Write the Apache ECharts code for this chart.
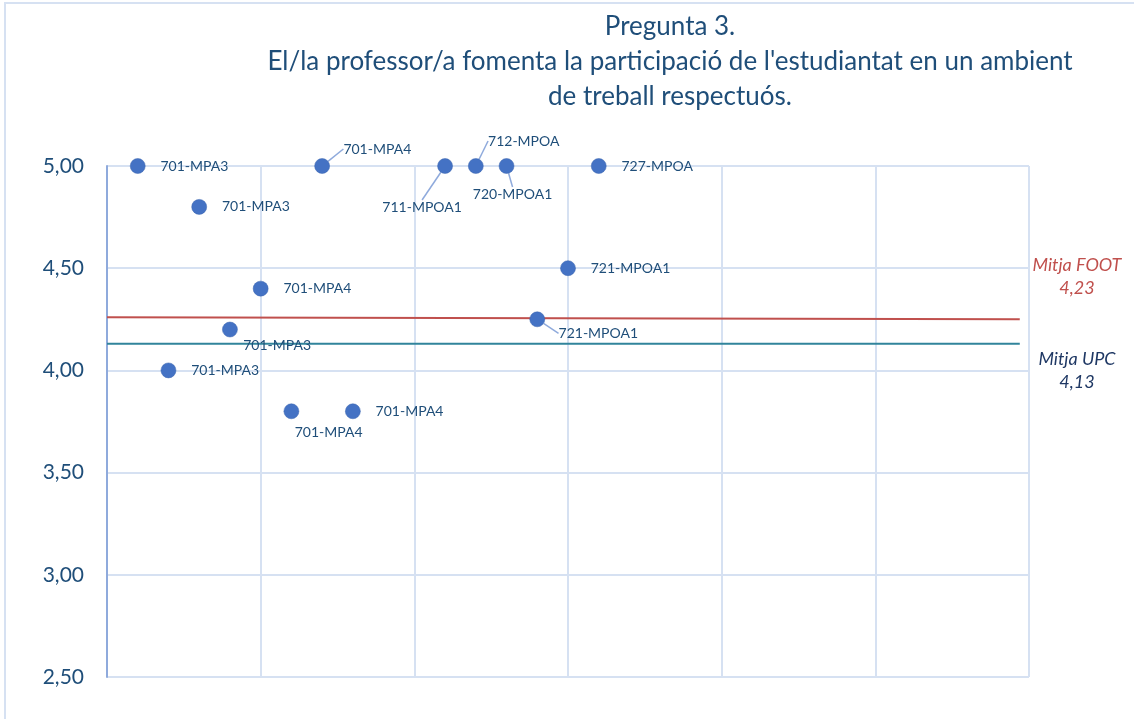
<!DOCTYPE html>
<html>
<head>
<meta charset="utf-8">
<script src="https://cdn.jsdelivr.net/npm/echarts@6/dist/echarts.min.js"></script>
<style>
  html, body { margin: 0; padding: 0; background: #fff; }
  #main { width: 1134px; height: 719px; }
</style>
</head>
<body>
<div id="main"></div>
<script>
// dades
var positions = [1, 2, 3, 4, 5, 6, 7, 8, 11, 12, 13, 14, 15, 16];
var scores = [5.00, 4.00, 4.80, 4.20, 4.40, 3.80, 5.00, 3.80, 5.00, 5.00, 5.00, 4.25, 4.50, 5.00];
var groups = ['701-MPA3', '701-MPA3', '701-MPA3', '701-MPA3', '701-MPA4', '701-MPA4', '701-MPA4',
	'701-MPA4', '711-MPOA1', '712-MPOA', '720-MPOA1', '721-MPOA1', '721-MPOA1', '727-MPOA'];
var footLineX = [0, 29.7];
var footLineY = [4.26, 4.25];
var upcLineX = [0, 29.7];
var upcLineY = [4.13, 4.13];
var yTicks = [2.5, 3.0, 3.5, 4.0, 4.5, 5.0];

var titleColor = '#1F4E79';
var gridColor = '#D6E1F2';

// etiquetes desplaçades (index -> dx, dy)
var moved = {
	3: [-9.5, 16],
	5: [-19.5, 21],
	6: [-1.5, -17],
	8: [-85.5, 41],
	9: [-10.5, -25],
	10: [-56.5, 28],
	11: [-1.5, 14]
};
var withLine = [6, 8, 9, 10, 11];

var myChart = echarts.init(document.getElementById('main'));

var points = positions.map(function(x, i) {
	var item = { value: [x, scores[i]], name: groups[i] };
	if (withLine.indexOf(i) >= 0) {
		item.labelLine = { show: true };
	}
	return item;
});

function note(text, x, y, color) {
	return {
		type: 'text',
		x: x,
		y: y,
		style: {
			text: text,
			textAlign: 'center',
			textVerticalAlign: 'middle',
			font: 'italic 18px Lato',
			fill: color
		}
	};
}

var option = {
	animation: false,
	textStyle: { fontFamily: 'Lato' },
	title: {
		text: 'Pregunta 3.\nEl/la professor/a fomenta la participació de l\'estudiantat en un ambient\nde treball respectuós.',
		left: 665,
		top: 4,
		textAlign: 'center',
		textStyle: {
			fontFamily: 'Lato',
			fontSize: 26,
			fontWeight: 'normal',
			lineHeight: 35,
			color: titleColor
		}
	},
	grid: {
		left: 107,
		right: 105,
		top: 166,
		bottom: 42
	},
	xAxis: {
		type: 'value',
		min: 0,
		max: 30,
		interval: 5,
		axisLine: { show: false },
		axisTick: { show: false },
		axisLabel: { show: false },
		splitLine: { lineStyle: { color: gridColor, width: 2 } }
	},
	yAxis: {
		type: 'value',
		min: 2.5,
		max: 5,
		interval: 0.5,
		axisLine: { show: true, lineStyle: { color: '#8FAADC', width: 2 } },
		axisTick: { show: false },
		axisLabel: {
			margin: 23,
			fontSize: 21,
			color: titleColor,
			formatter: function(v) {
				return yTicks.indexOf(v) >= 0 ? v.toFixed(2).replace('.', ',') : '';
			}
		},
		splitLine: { lineStyle: { color: gridColor, width: 2 } }
	},
	graphic: [{
		type: 'rect',
		shape: { x: 5, y: 3, width: 1200, height: 800 },
		style: { fill: 'none', stroke: gridColor, lineWidth: 2 },
		silent: true
	},
		note('Mitja FOOT', 1077, 265, '#C0504D'),
		note('4,23', 1077, 288, '#C0504D'),
		note('Mitja UPC', 1077, 359, '#1F3864'),
		note('4,13', 1077, 382, '#1F3864')
	],
	series: [{
		name: 'FOOT',
		type: 'line',
		data: footLineX.map(function(x, i) { return [x, footLineY[i]]; }),
		symbol: 'none',
		lineStyle: { color: '#C0504D', width: 2 },
		z: 3
	}, {
		name: 'UPC',
		type: 'line',
		data: upcLineX.map(function(x, i) { return [x, upcLineY[i]]; }),
		symbol: 'none',
		lineStyle: { color: '#31849B', width: 2 },
		z: 3
	}, {
		name: 'Grups',
		type: 'scatter',
		symbolSize: 15,
		itemStyle: { color: '#4472C4', borderColor: '#3A64AE', borderWidth: 0.5, opacity: 1 },
		label: {
			show: true,
			position: 'right',
			distance: 15,
			fontSize: 14,
			fontFamily: 'Lato',
			color: '#1F4E79',
			formatter: function(p) { return p.name; }
		},
		labelLine: {
			show: false,
			lineStyle: { color: '#8FAADC', width: 1.5 }
		},
		labelLayout: function(params) {
			var m = moved[params.dataIndex];
			if (!m) return {};
			return { dx: m[0], dy: m[1] };
		},
		data: points,
		z: 5
	}]
};

myChart.setOption(option);
</script>
</body>
</html>
